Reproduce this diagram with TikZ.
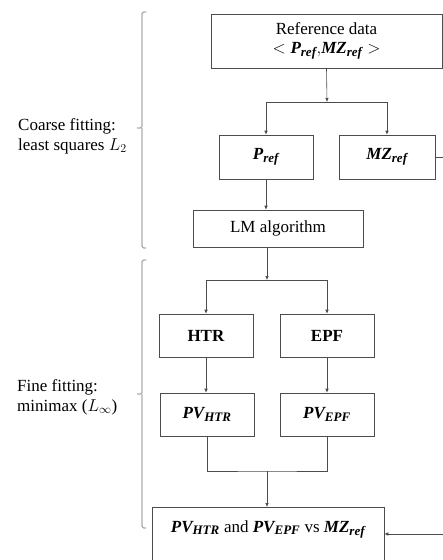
\documentclass[tikz,border=0pt]{standalone}
\usepackage{amsmath}
\usepackage{fontspec}
\setmainfont{Liberation Serif}
\usetikzlibrary{arrows.meta}

\newcommand{\bival}[1]{\text{\bfseries\itshape #1}}
\newcommand{\bisub}[1]{\text{\fontsize{13}{13}\selectfont\bfseries\itshape #1}}

\tikzset{
    box/.style={draw=black!70, line width=0.6pt, inner sep=0pt, align=center},
    arr/.style={-{Latex[length=4pt,width=3.5pt]}, draw=black!70, line width=0.6pt},
    wire/.style={draw=black!70, line width=0.6pt},
    bracket/.style={draw=black!60, line width=0.6pt, rounded corners=1.5pt},
    side/.style={align=left, anchor=west, inner sep=0pt}
}

\begin{document}
\begin{tikzpicture}[x=1pt, y=-1pt, font=\fontsize{17}{20}\selectfont]
    \useasboundingbox (0,0) rectangle (443,560);
    \clip (0,0) rectangle (443,560);

    % coarse part
    \node[box, minimum width=231, minimum height=54] (refdata) at (326.5,41)
        {Reference data\\[-1pt] $<\bival{P}_{\bisub{ref}}{,}\bival{MZ}_{\bisub{ref}}>$};
    \node[box, minimum width=94, minimum height=44] (pref) at (266,157) {$\bival{P}_{\bisub{ref}}$};
    \node[box, minimum width=96, minimum height=44] (mz) at (387,157) {$\bival{MZ}_{\bisub{ref}}$};
    \node[box, minimum width=170, minimum height=37] (lm) at (278,228.5) {LM algorithm};

    \coordinate (split1) at (327,102);
    \coordinate (mzout) at (443,157);
    \draw[arr] (refdata.south) -- (split1);
    \draw[wire] (split1 -| pref.north) -- (split1 -| mz.north);
    \draw[arr] (split1 -| pref.north) -- (pref.north);
    \draw[arr] (split1 -| mz.north) -- (mz.north);
    \draw[wire] (mz.east) -- (mzout);
    \draw[arr] (pref.south) -- (pref.south |- lm.north);

    % fine part
    \node[box, minimum width=94, minimum height=43] (htr) at (206,335.5) {\textbf{HTR}};
    \node[box, minimum width=94, minimum height=43] (epf) at (327,335.5) {\textbf{EPF}};
    \node[box, minimum width=94, minimum height=43] (pvhtr) at (207,414.5) {$\bival{PV}_{\bisub{HTR}}$};
    \node[box, minimum width=94, minimum height=43] (pvepf) at (327,414.5) {$\bival{PV}_{\bisub{EPF}}$};
    \node[box, anchor=north, minimum width=232, inner ysep=12pt, text height=13pt, text depth=45pt] (final) at (268,507)
        {$\bival{PV}_{\bisub{HTR}}$ and $\bival{PV}_{\bisub{EPF}}$ vs $\bival{MZ}_{\bisub{ref}}$};

    \coordinate (split2) at (267,280);
    \coordinate (merge) at (267,471);
    \coordinate (fbin) at (443,534);
    \draw[arr] (lm.south -| split2) -- (split2);
    \draw[wire] (split2 -| htr.north) -- (split2 -| epf.north);
    \draw[arr] (split2 -| htr.north) -- (htr.north);
    \draw[arr] (split2 -| epf.north) -- (epf.north);
    \draw[arr] (htr.south) -- (htr.south |- pvhtr.north);
    \draw[arr] (epf.south) -- (epf.south |- pvepf.north);
    \draw[wire] (pvhtr.south) |- (merge) -| (pvepf.south);
    \draw[arr] (merge) -- (merge |- final.north);
    \draw[arr] (fbin) -- (final.east |- fbin);

    % brackets and their labels
    \draw[bracket] (146,12) -- (142,12) -- (142,128) -- (137,128)
        (142,128) -- (142,248) -- (146,248);
    \draw[bracket] (146,260) -- (142,260) -- (142,394) -- (137,394)
        (142,394) -- (142,528) -- (146,528);
    \node[side] (coarse) at (18,136) {Coarse fitting:\\ least squares $L_2$};
    \node[side] (fine) at (17,397) {Fine fitting:\\ minimax ($L_\infty$)};
\end{tikzpicture}
\end{document}
